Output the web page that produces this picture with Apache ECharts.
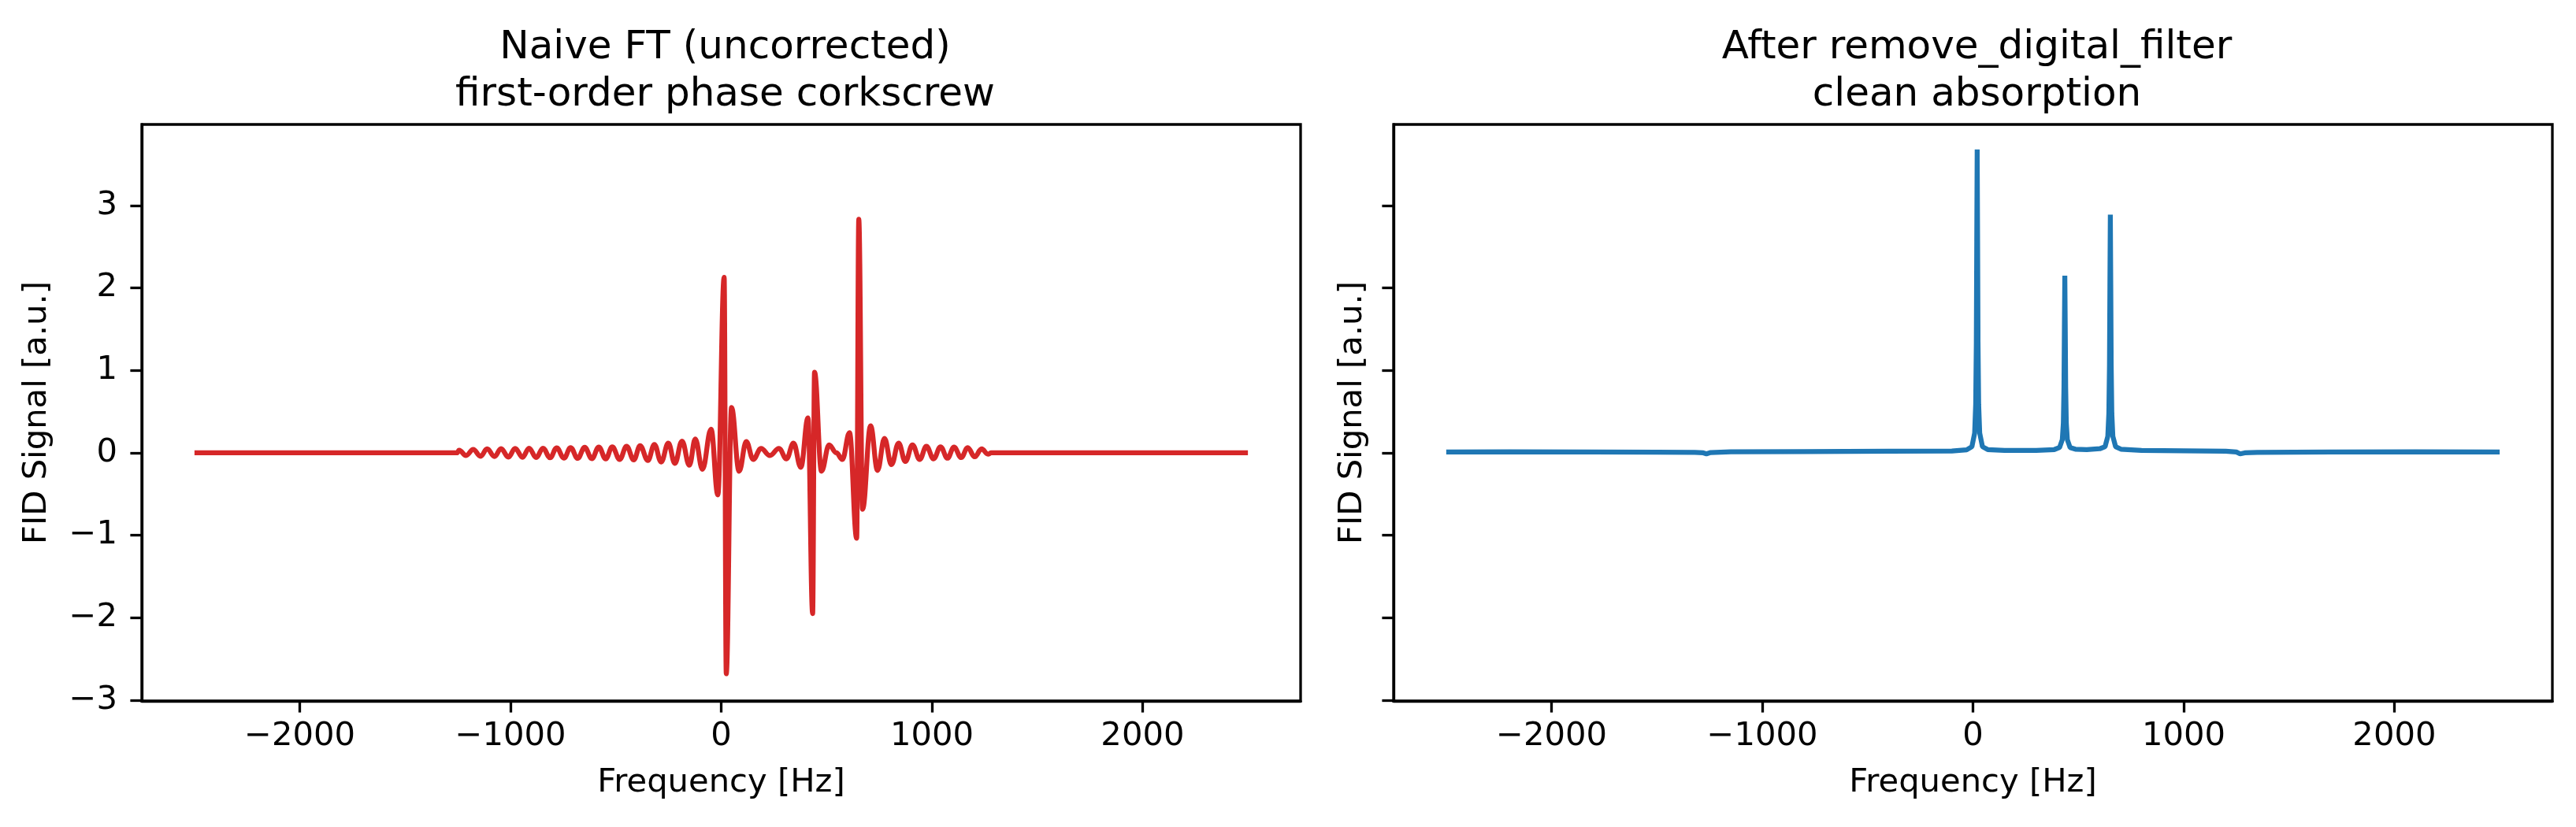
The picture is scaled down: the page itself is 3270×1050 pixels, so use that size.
<!DOCTYPE html>
<html>
<head>
<meta charset="utf-8">
<script src="https://cdn.jsdelivr.net/npm/echarts@6/dist/echarts.min.js"></script>
<style>
  html, body { margin: 0; padding: 0; background: #fff; }
  #chart { width: 3270px; height: 1050px; }
</style>
</head>
<body>
<div id="chart"></div>
<script>
// values
var redFreq = [-2500, -1260, -1254, -1244, -1211, -1177, -1142, -1111, -1076, -1045, -1010, -978, -943, -912, -878, -846, -812, -781, -746, -715, -681, -648, -614, -581, -548, -517, -482, -449, -415, -385, -348, -317, -285, -251, -220, -186, -151, -123, -89, -48, -16, 14, 24, 49, 85, 119, 152, 189, 231, 274, 310, 343, 378, 412, 434, 443, 476, 512, 547, 575, 609, 643, 653, 671, 709, 742, 775, 808, 842, 874, 908, 942, 974, 1008, 1041, 1074, 1105, 1139, 1170, 1203, 1236, 1266, 1282, 2500];
var redSignal = [0, 0, 0, 0.032, -0.032, 0.041, -0.041, 0.048, -0.045, 0.051, -0.051, 0.054, -0.054, 0.057, -0.057, 0.057, -0.060, 0.060, -0.064, 0.064, -0.067, 0.067, -0.070, 0.070, -0.073, 0.073, -0.080, 0.080, -0.086, 0.086, -0.092, 0.102, -0.111, 0.118, -0.127, 0.143, -0.150, 0.169, -0.200, 0.287, -0.510, 2.130, -2.680, 0.550, -0.223, 0.137, -0.080, 0.054, -0.032, 0.054, -0.073, 0.118, -0.175, 0.424, -1.950, 0.978, -0.223, 0.096, 0.000, -0.080, 0.245, -1.035, 2.834, -0.685, 0.328, -0.213, 0.175, -0.143, 0.118, -0.105, 0.096, -0.080, 0.080, -0.073, 0.073, -0.064, 0.070, -0.057, 0.064, -0.048, 0.048, -0.016, 0, 0];

var blueFreq = [-2500, -2200, -1800, -1500, -1320, -1280, -1265, -1245, -1150, -800, -400, -100, -30, -5, 8, 13, 16, 18, 20, 22, 24, 27, 32, 45, 70, 150, 300, 386, 411, 424, 429, 432, 434, 436, 438, 440, 443, 448, 461, 486, 540, 602, 627, 640, 645, 648, 650, 652, 654, 656, 659, 664, 677, 702, 800, 1000, 1200, 1250, 1268, 1290, 1350, 1700, 2100, 2500];
var blueSignal = [0.010, 0.012, 0.010, 0.008, 0.006, 0.000, -0.012, 0.004, 0.012, 0.016, 0.020, 0.022, 0.037, 0.075, 0.240, 0.590, 1.340, 2.570, 3.680, 2.570, 1.340, 0.590, 0.240, 0.075, 0.040, 0.030, 0.030, 0.040, 0.065, 0.160, 0.360, 0.800, 1.520, 2.150, 1.520, 0.800, 0.360, 0.160, 0.065, 0.045, 0.040, 0.050, 0.075, 0.200, 0.480, 1.070, 2.030, 2.890, 2.030, 1.070, 0.480, 0.200, 0.075, 0.045, 0.030, 0.025, 0.020, 0.010, -0.012, 0.000, 0.006, 0.010, 0.012, 0.010];

var xTicks = [-2000, -1000, 0, 1000, 2000];
var yTicks = [-3, -2, -1, 0, 1, 2, 3];

var titles = ['Naive FT (uncorrected)\nfirst-order phase corkscrew', 'After remove_digital_filter\nclean absorption'];

function pairs(xs, ys) {
  var out = [];
  for (var i = 0; i < xs.length; i++) out.push([xs[i], ys[i]]);
  return out;
}
function minus(v) { return String(v).replace('-', '\u2212'); }

var FONT = 'DejaVu Sans';
var grids = [
  { left: 180, top: 158, width: 1471, height: 732 },
  { left: 1769, top: 158, width: 1471, height: 732 }
];

function xAxis(i) {
  return {
    type: 'value', gridIndex: i, min: -2750, max: 2750,
    name: 'Frequency [Hz]', nameLocation: 'middle', nameGap: 83,
    nameTextStyle: { fontFamily: FONT, fontSize: 41.7, color: '#000' },
    axisLine: { show: true, onZero: false, lineStyle: { color: '#000', width: 3.3 } },
    axisTick: { show: true, inside: false, length: 14.6, customValues: xTicks, lineStyle: { color: '#000', width: 3.3 } },
    axisLabel: { show: true, margin: 24, customValues: xTicks, formatter: minus,
      fontFamily: FONT, fontSize: 41.7, color: '#000' },
    splitLine: { show: false }
  };
}
function yAxis(i) {
  return {
    type: 'value', gridIndex: i, min: -3.01, max: 3.984,
    name: 'FID Signal [a.u.]', nameLocation: 'middle', nameGap: i === 0 ? 112 : 31,
    nameTextStyle: { fontFamily: FONT, fontSize: 41.7, color: '#000' },
    axisLine: { show: true, onZero: false, lineStyle: { color: '#000', width: 3.3 } },
    axisTick: { show: true, inside: false, length: 14.6, customValues: yTicks, lineStyle: { color: '#000', width: 3.3 } },
    axisLabel: { show: i === 0, margin: 31, customValues: yTicks, formatter: minus,
      fontFamily: FONT, fontSize: 41.7, color: '#000' },
    splitLine: { show: false }
  };
}

var chart = echarts.init(document.getElementById('chart'), null, { renderer: 'canvas' });
chart.setOption({
  animation: false,
  backgroundColor: '#fff',
  title: [
    { text: titles[0], left: 915.5, top: 26, textAlign: 'center',
      textStyle: { fontFamily: FONT, fontSize: 50, fontWeight: 'normal', lineHeight: 60, color: '#000' } },
    { text: titles[1], left: 2504.5, top: 26, textAlign: 'center',
      textStyle: { fontFamily: FONT, fontSize: 50, fontWeight: 'normal', lineHeight: 60, color: '#000' } }
  ],
  grid: grids.map(function (g) {
    return Object.assign({ show: true, borderColor: '#000', borderWidth: 3.3, backgroundColor: 'transparent' }, g);
  }),
  xAxis: [xAxis(0), xAxis(1)],
  yAxis: [yAxis(0), yAxis(1)],
  series: [
    {
      name: 'naive', type: 'line', xAxisIndex: 0, yAxisIndex: 0,
      data: pairs(redFreq, redSignal),
      showSymbol: false, smooth: 0.4, smoothMonotone: 'x',
      lineStyle: { color: '#d62728', width: 6.25 }
    },
    {
      name: 'corrected', type: 'line', xAxisIndex: 1, yAxisIndex: 1,
      data: pairs(blueFreq, blueSignal),
      showSymbol: false, smooth: false,
      lineStyle: { color: '#1f77b4', width: 6.25 }
    }
  ]
});
</script>
</body>
</html>
